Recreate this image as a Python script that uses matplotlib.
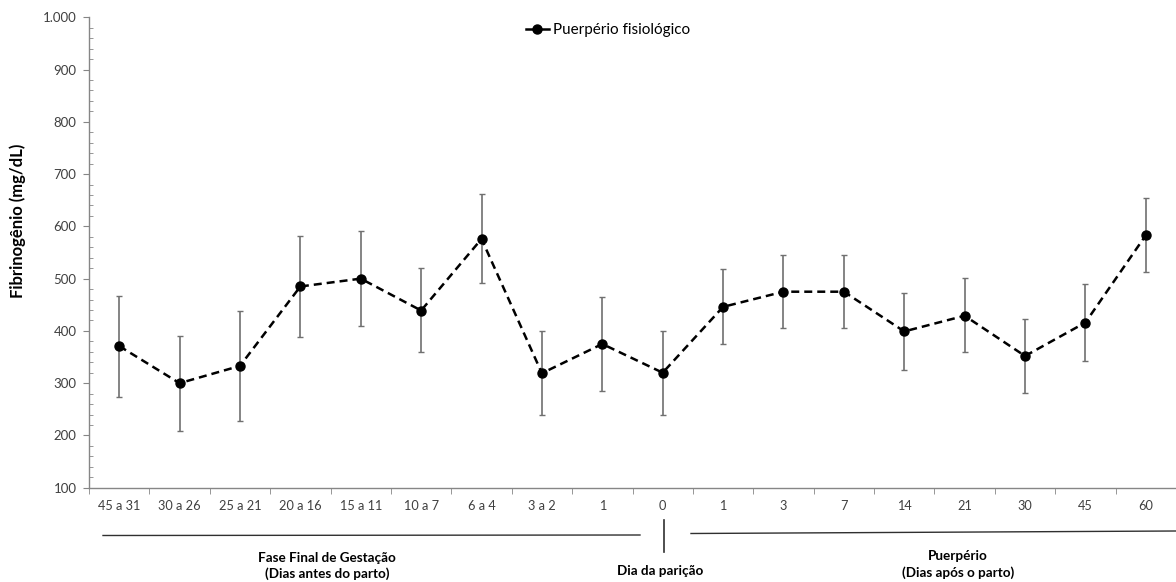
import numpy as np
import matplotlib
matplotlib.use("Agg")
import matplotlib.pyplot as plt
from matplotlib.lines import Line2D
from matplotlib.ticker import MultipleLocator, FuncFormatter

plt.rcParams['font.family'] = ['Lato', 'DejaVu Sans']

# dados
categorias = ['45 a 31', '30 a 26', '25 a 21', '20 a 16', '15 a 11', '10 a 7', '6 a 4',
              '3 a 2', '1', '0', '1', '3', '7', '14', '21', '30', '45', '60']
media = [371, 300, 333, 485, 500, 439, 576, 319, 375, 320, 446, 475, 475, 399, 429, 352, 416, 583]
erro_sup = [467, 391, 438, 582, 591, 521, 661, 400, 465, 400, 518, 546, 546, 473, 501, 423, 490, 654]
erro_inf = [274, 209, 228, 388, 409, 359, 492, 239, 285, 239, 375, 405, 405, 326, 359, 282, 342, 512]

media = np.array(media)
yerr = [media - np.array(erro_inf), np.array(erro_sup) - media]
x = np.arange(len(categorias))

W, H = 1176, 582
fig = plt.figure(figsize=(W / 100, H / 100), dpi=100)
ax = fig.add_axes([89 / W, 1 - 487.7 / H, (W - 89) / W, (487.7 - 17.3) / H])

# barras de erro em cinza
ax.errorbar(x, media, yerr=yerr, fmt='none', ecolor='#707070', elinewidth=1.2,
            capsize=2.5, capthick=1.0, zorder=2)
ax.plot(x, media, color='black', lw=1.8, linestyle=(0, (3.2, 2.0)),
        marker='o', markersize=6.5, zorder=3)

ax.set_xlim(-0.5, len(categorias) - 0.5)
ax.set_ylim(100, 1000)

ax.set_xticks(x)
ax.set_xticklabels(categorias)
ax.set_xticks(np.arange(-0.5, len(categorias)), minor=True)
ax.tick_params(axis='x', which='major', length=0, pad=9, labelsize=9.2, labelcolor='#404040')
ax.tick_params(axis='x', which='minor', length=4, direction='out', color='#868686')

ax.yaxis.set_major_locator(MultipleLocator(100))
ax.yaxis.set_minor_locator(MultipleLocator(20))
ax.yaxis.set_major_formatter(FuncFormatter(lambda v, p: f'{int(v):,}'.replace(',', '.')))
ax.tick_params(axis='y', which='major', length=4, direction='out', color='#868686',
               labelsize=9.5, labelcolor='#404040', pad=5)
ax.tick_params(axis='y', which='minor', length=3, direction='in', color='#868686')

for s in ['top', 'right']:
    ax.spines[s].set_visible(False)
for s in ['left', 'bottom']:
    ax.spines[s].set_color('#868686')
    ax.spines[s].set_linewidth(1.0)

fig.text(18 / W, 1 - 221 / H, 'Fibrinogênio (mg/dL)', rotation=90, ha='center', va='center',
         fontsize=12, fontweight='bold')

handle = Line2D([], [], color='black', lw=1.8, marker='o', markersize=6.5)
fig.legend([handle], ['Puerpério fisiológico'], loc='center', bbox_to_anchor=(608 / W, 1 - 30 / H),
           frameon=False, fontsize=11, handlelength=1.5, handletextpad=0.3)

# anotações abaixo do eixo x
def fx(px):
    return px / W

def fy(py):
    return 1 - py / H

fig.add_artist(Line2D([fx(103), fx(640)], [fy(535.5), fy(535)], color='#303030', lw=1.0))
fig.add_artist(Line2D([fx(664), fx(664)], [fy(520), fy(552)], color='#303030', lw=1.2))
fig.add_artist(Line2D([fx(691), fx(1176)], [fy(533.5), fy(531)], color='#303030', lw=1.0))

fig.text(fx(327), fy(557.5), 'Fase Final de Gestação', ha='center', va='center',
         fontsize=9.7, fontweight='bold')
fig.text(fx(327), fy(574), '(Dias antes do parto)', ha='center', va='center',
         fontsize=9.7, fontweight='bold')
fig.text(fx(660), fy(571), 'Dia da parição', ha='center', va='center',
         fontsize=9.7, fontweight='bold')
fig.text(fx(958), fy(556), 'Puerpério', ha='center', va='center',
         fontsize=9.7, fontweight='bold')
fig.text(fx(958), fy(573), '(Dias após o parto)', ha='center', va='center',
         fontsize=9.7, fontweight='bold')

fig.savefig('out.png', dpi=100)
